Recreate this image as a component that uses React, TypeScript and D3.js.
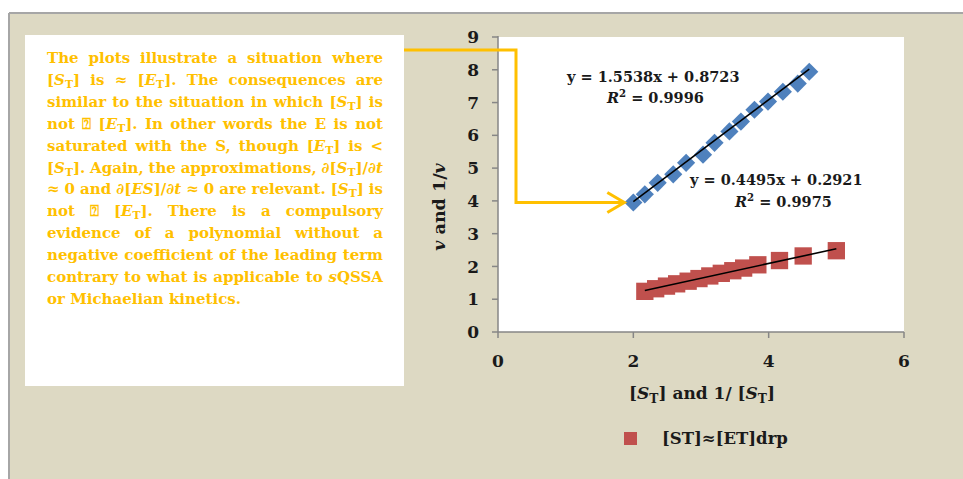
import React, { useEffect, useRef } from 'react';
import * as d3 from 'd3';

const width = 963;
const height = 479;

// plot area of the scatter chart (pixels)
const plot = { left: 498, right: 904, top: 37, bottom: 332 };

// blue series (diamonds), v vs [ST]
const blueX = [2.0, 2.17, 2.36, 2.59, 2.78, 3.03, 3.2, 3.42, 3.59, 3.79, 3.99, 4.21, 4.43, 4.6];
const blueY = [3.95, 4.2, 4.55, 4.81, 5.16, 5.41, 5.77, 6.12, 6.42, 6.78, 7.03, 7.33, 7.58, 7.94];

// red series (squares), 1/v vs 1/[ST]
const redX = [2.17, 2.33, 2.49, 2.64, 2.81, 2.97, 3.13, 3.3, 3.47, 3.63, 3.84, 4.16, 4.51, 5.0];
const redY = [1.24, 1.32, 1.4, 1.47, 1.55, 1.63, 1.71, 1.79, 1.87, 1.95, 2.05, 2.18, 2.32, 2.48];

const blueFit = { slope: 1.5538, intercept: 0.8723, r2: 0.9996 };
const redFit = { slope: 0.4495, intercept: 0.2921, r2: 0.9975 };

const xTicks = [0, 2, 4, 6];
const yTicks = [0, 1, 2, 3, 4, 5, 6, 7, 8, 9];

const legendLabel = '[ST]≈[ET]drp';

// *x* = italic, _x_ = subscript
const noteLines = [
  'The plots illustrate a situation where',
  '[*S*_T_] is ≈ [*E*_T_]. The consequences are',
  'similar to the situation in which [*S*_T_] is',
  'not ⍰ [*E*_T_]. In other words the E is not',
  'saturated with the S, though [*E*_T_] is <',
  '[*S*_T_]. Again, the approximations, *∂*[*S*_T_]/*∂t*',
  '≈ 0 and *∂*[*ES*]/*∂t* ≈ 0 are relevant. [*S*_T_] is',
  'not ⍰ [*E*_T_]. There is a compulsory',
  'evidence of a polynomial without a',
  'negative coefficient of the leading term',
  'contrary to what is applicable to *s*QSSA',
  'or Michaelian kinetics.',
];

const orange = '#FFC000';
const beige = '#DDD9C3';
const axisColor = '#868686';
const serif = '"DejaVu Serif", "Liberation Serif", serif';

const noteLeft = 47;
const noteRight = 383;

function parseRich(s) {
  return s.split(/(\*[^*]+\*|_[^_]+_)/).filter(p => p.length).map(p => {
    if (p.length > 2 && p[0] === '*' && p[p.length - 1] === '*') return { t: p.slice(1, -1), italic: true };
    if (p.length > 2 && p[0] === '_' && p[p.length - 1] === '_') return { t: p.slice(1, -1), sub: true };
    return { t: p };
  });
}

function Rich({ text, subShift = 4 }) {
  const segs = parseRich(text);
  return (
    <>
      {segs.map((s, j) => {
        const prevSub = j > 0 && segs[j - 1].sub;
        const dy = s.sub ? subShift : prevSub ? -subShift : undefined;
        return (
          <tspan key={j} dy={dy} fontStyle={s.italic ? 'italic' : undefined}
            fontSize={s.sub ? '0.72em' : undefined}>{s.t}</tspan>
        );
      })}
    </>
  );
}

const fmt = d3.format('.4f');

export default function App() {
  const noteRef = useRef(null);

  const x = d3.scaleLinear().domain([0, 6]).range([plot.left, plot.right]);
  const y = d3.scaleLinear().domain([0, 9]).range([plot.bottom, plot.top]);

  const blue = blueX.map((v, i) => ({ x: v, y: blueY[i] }));
  const red = redX.map((v, i) => ({ x: v, y: redY[i] }));

  const diamond = d3.symbol(d3.symbolSquare, 165)();
  const square = d3.symbol(d3.symbolSquare, 300)();

  const line = d3.line().x(d => x(d[0])).y(d => y(d[1]));
  const fitLine = (fit, xs) => {
    const [lo, hi] = d3.extent(xs);
    return line([[lo, fit.slope * lo + fit.intercept], [hi, fit.slope * hi + fit.intercept]]);
  };

  // arrow from the note box to the first blue point
  const tipX = x(blueX[0]) - 9;
  const tipY = y(blueY[0]);
  const arrowPath = d3.path();
  arrowPath.moveTo(404, 50);
  arrowPath.lineTo(516, 50);
  arrowPath.lineTo(516, tipY);
  arrowPath.lineTo(tipX, tipY);

  useEffect(() => {
    document.body.style.margin = '0';
    // justify every line of the note except the last one
    d3.select(noteRef.current).selectAll('text').each(function (_, i) {
      if (i === noteLines.length - 1) return;
      const el = this;
      el.style.wordSpacing = '0px';
      const natural = el.getComputedTextLength();
      const gaps = (el.textContent.match(/ /g) || []).length;
      if (gaps) el.style.wordSpacing = `${(noteRight - noteLeft - natural) / gaps}px`;
    });
  }, []);

  return (
    <svg width={width} height={height} style={{ display: 'block' }} fontFamily={serif}>
      <rect width={width} height={height} fill="#fff" />
      <rect x={9} y={13} width={width - 9} height={height - 13} fill={beige} />
      <line x1={9} x2={width} y1={13} y2={13} stroke="#a6a6a6" strokeWidth={2} />
      <line x1={9} x2={9} y1={13} y2={height} stroke="#a6a6a6" strokeWidth={2} />

      {/* note box */}
      <rect x={25} y={35} width={379} height={351} fill="#fff" />
      <g ref={noteRef} fill={orange} fontWeight="bold" fontSize={15}>
        {noteLines.map((l, i) => (
          <text key={i} x={noteLeft} y={63 + i * 21.9}><Rich text={l} subShift={3} /></text>
        ))}
      </g>

      {/* plot area */}
      <rect x={plot.left} y={plot.top} width={plot.right - plot.left} height={plot.bottom - plot.top} fill="#fff" />

      {/* axes */}
      <g stroke={axisColor} strokeWidth={1.5}>
        <line x1={plot.left} x2={plot.left} y1={plot.top - 1} y2={plot.bottom} />
        <line x1={plot.left} x2={plot.right} y1={plot.bottom} y2={plot.bottom} />
        {yTicks.map(t => (
          <line key={t} x1={plot.left - 6} x2={plot.left} y1={y(t)} y2={y(t)} />
        ))}
        {xTicks.map(t => (
          <line key={t} x1={x(t)} x2={x(t)} y1={plot.bottom} y2={plot.bottom + 6} />
        ))}
      </g>
      <g fontWeight="bold" fontSize={17} fill="#1a1a1a">
        {yTicks.map(t => (
          <text key={t} x={479} y={y(t)} dy="0.36em" textAnchor="end">{t}</text>
        ))}
        {xTicks.map(t => (
          <text key={t} x={x(t)} y={367} textAnchor="middle">{t}</text>
        ))}
      </g>

      {/* axis titles */}
      <text x={702} y={399} textAnchor="middle" fontSize={17} fontWeight="bold" fill="#1a1a1a">
        <Rich text="[*S*_T_] and 1/ [*S*_T_]" />
      </text>
      <text transform="translate(445,207) rotate(-90)" textAnchor="middle" fontSize={17.5} fontWeight="bold" fill="#1a1a1a">
        <tspan fontStyle="italic">v</tspan> and 1/<tspan fontStyle="italic">v</tspan>
      </text>

      {/* series */}
      {blue.map((d, i) => (
        <path key={i} d={diamond} fill="#4F81BD" transform={`translate(${x(d.x)},${y(d.y)}) rotate(45)`} />
      ))}
      {red.map((d, i) => (
        <path key={i} d={square} fill="#C0504D" transform={`translate(${x(d.x)},${y(d.y)})`} />
      ))}

      {/* trend lines */}
      <path d={fitLine(blueFit, blueX)} stroke="#000" strokeWidth={1.6} fill="none" />
      <path d={fitLine(redFit, redX)} stroke="#000" strokeWidth={1.6} fill="none" />

      {/* trend labels */}
      <g fontWeight="bold" fontSize={14.5} fill="#1a1a1a">
        <text x={567} y={82}>{`y = ${fmt(blueFit.slope)}x + ${fmt(blueFit.intercept)}`}</text>
        <text x={607} y={103}>
          <tspan fontStyle="italic">R</tspan><tspan dy={-6} fontSize="0.7em">2</tspan><tspan dy={6}>{` = ${blueFit.r2}`}</tspan>
        </text>
        <text x={690} y={185}>{`y = ${fmt(redFit.slope)}x + ${fmt(redFit.intercept)}`}</text>
        <text x={735} y={207}>
          <tspan fontStyle="italic">R</tspan><tspan dy={-6} fontSize="0.7em">2</tspan><tspan dy={6}>{` = ${redFit.r2}`}</tspan>
        </text>
      </g>

      {/* arrow */}
      <g stroke={orange} strokeWidth={3} fill="none" strokeLinejoin="miter">
        <path d={arrowPath.toString()} />
        <path d={`M${tipX - 17},${tipY - 10}L${tipX},${tipY}L${tipX - 17},${tipY + 10}`} />
      </g>

      {/* legend */}
      <rect x={624} y={432} width={13} height={13} fill="#C0504D" />
      <text x={662} y={444} fontSize={16.5} fontWeight="bold" fill="#1a1a1a">{legendLabel}</text>
    </svg>
  );
}
